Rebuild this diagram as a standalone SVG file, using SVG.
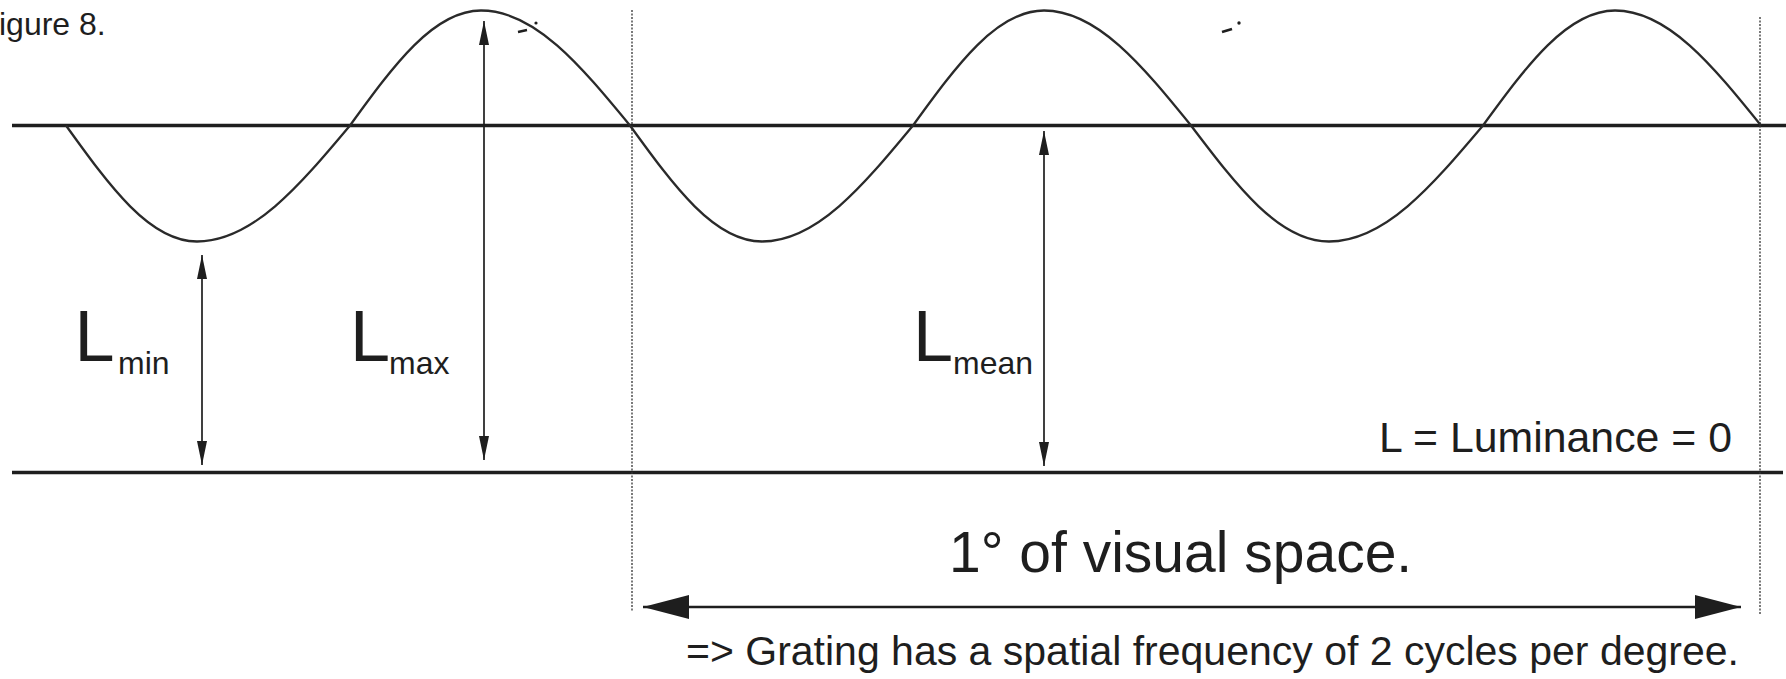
<svg xmlns="http://www.w3.org/2000/svg" width="1786" height="679" viewBox="0 0 1786 679">
<defs>
<style>
.txt{font-family:"Liberation Sans",Arial,Helvetica,sans-serif;fill:#1e1e1e}
.axis{stroke:#1e1e1e;stroke-width:3.5;fill:none}
.wave{stroke:#2a2a2a;stroke-width:2.3;fill:none}
.dim{stroke:#1e1e1e;stroke-width:1.7;fill:none}
.dot{stroke:#333;stroke-width:1.3;stroke-dasharray:2 1.5;fill:none}
.span{stroke:#1e1e1e;stroke-width:2.6;fill:none}
</style>
<marker id="vh" viewBox="0 0 24 10" refX="24" refY="5" markerWidth="24" markerHeight="10" markerUnits="userSpaceOnUse" orient="auto-start-reverse">
<path d="M0,0 L24,5 L0,10 z" fill="#1e1e1e"/>
</marker>
<marker id="hh" viewBox="0 0 46 24" refX="46" refY="12" markerWidth="46" markerHeight="24" markerUnits="userSpaceOnUse" orient="auto-start-reverse">
<path d="M0,0 L46,12 L0,24 z" fill="#1e1e1e"/>
</marker>
</defs>
<rect width="1786" height="679" fill="#ffffff"/>

<g id="axes">
<line class="axis" x1="12" y1="125.5" x2="1786" y2="125.5"/>
<line class="axis" x1="12" y1="472.5" x2="1783" y2="472.5"/>
</g>

<g id="grating-wave">
<path class="wave" d="M66,125.5 C109.8,186.4 149.6,241.5 197,241.5 C252.3,241.5 298.9,186.4 350,125.5 C393.8,65.1 433.6,10.5 481,10.5 C534.9,10.5 580.2,65.1 630,125.5 C674.1,186.4 714.3,241.5 762,241.5 C816.6,241.5 862.5,186.4 913,125.5 C956.8,65.1 996.6,10.5 1044,10.5 C1097.1,10.5 1141.9,65.1 1191,125.5 C1237.1,186.4 1279.1,241.5 1329,241.5 C1384.7,241.5 1431.5,186.4 1483,125.5 C1527.1,65.1 1567.3,10.5 1615,10.5 C1667.8,10.5 1712.2,65.1 1761,125.5"/>
</g>

<g id="specks" fill="#1e1e1e" stroke="#1e1e1e">
<line x1="518" y1="32" x2="527" y2="30" stroke-width="2.4"/>
<circle cx="536" cy="23" r="1.6" stroke="none"/>
<line x1="1222" y1="32" x2="1232" y2="29" stroke-width="2.6"/>
<circle cx="1239" cy="23" r="1.7" stroke="none"/>
</g>

<g id="connectors">
<line class="dot" x1="632" y1="10" x2="632" y2="611"/>
<line class="dot" x1="1760" y1="17" x2="1760" y2="615"/>
<line class="dim" x1="202" y1="255" x2="202" y2="465" marker-start="url(#vh)" marker-end="url(#vh)"/>
<line class="dim" x1="484" y1="21" x2="484" y2="460" marker-start="url(#vh)" marker-end="url(#vh)"/>
<line class="dim" x1="1044" y1="131" x2="1044" y2="466" marker-start="url(#vh)" marker-end="url(#vh)"/>
<line class="span" x1="643" y1="607" x2="1741" y2="607" marker-start="url(#hh)" marker-end="url(#hh)"/>
</g>

<g id="figure-label">
<text class="txt" x="-1" y="35" font-size="32">igure 8.</text>
</g>

<g id="label-lmin">
<text class="txt" x="74.5" y="361" font-size="72">L</text>
<text class="txt" x="118" y="374" font-size="32">min</text>
</g>

<g id="label-lmax">
<text class="txt" x="350" y="361" font-size="72">L</text>
<text class="txt" x="389" y="374" font-size="32">max</text>
</g>

<g id="label-lmean">
<text class="txt" x="913" y="361" font-size="72">L</text>
<text class="txt" x="953" y="374" font-size="32">mean</text>
</g>

<g id="label-luminance">
<text class="txt" x="1379" y="452" font-size="42.8">L = Luminance = 0</text>
</g>

<g id="label-visual-space">
<text class="txt" x="949" y="572" font-size="57">1° of visual space.</text>
</g>

<g id="label-frequency">
<text class="txt" x="686" y="665" font-size="41">=&gt; Grating has a spatial frequency of 2 cycles per degree.</text>
</g>
</svg>
